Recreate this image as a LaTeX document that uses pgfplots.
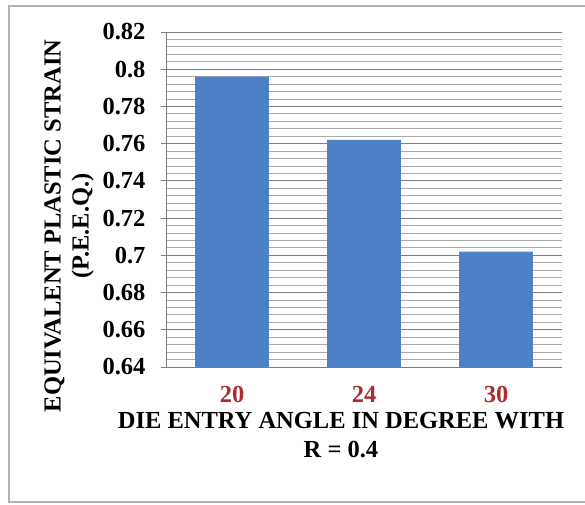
\documentclass[border=0pt]{standalone}
\usepackage{fontspec}
\setmainfont{Liberation Serif}
\usepackage{pgfplots}
\pgfplotsset{compat=1.18}
\definecolor{barblue}{RGB}{78,128,200}
\definecolor{tickred}{RGB}{170,45,45}
\definecolor{majgrid}{RGB}{125,125,125}
\definecolor{mingrid}{RGB}{170,170,170}
\begin{document}
\begin{tikzpicture}[x=1pt,y=1pt]
\useasboundingbox (0,0) rectangle (585,504);
\fill[white] (0,0) rectangle (585,504);
\draw[gray!60,line width=1.2pt] (600,2) -- (9,2) -- (9,498) -- (600,498);
\begin{axis}[
  at={(166pt,137pt)}, anchor=south west,
  width=396pt, height=335pt, scale only axis,
  xmin=-0.5, xmax=2.5, ymin=0.64, ymax=0.82,
  xtick={0,1,2}, xticklabels={20,24,30},
  ytick={0.64,0.66,...,0.82},
  minor y tick num=4,
  ymajorgrids, yminorgrids,
  major grid style={majgrid, line width=0.8pt},
  minor grid style={mingrid, line width=0.8pt},
  axis x line*=bottom, axis y line*=left,
  x axis line style={majgrid, line width=1pt, -},
  y axis line style={majgrid, line width=1pt, -},
  xtick style={draw=none},
  ytick style={majgrid, line width=0.8pt},
  tick align=outside, major tick length=5pt,
  minor tick length=0pt,
  /pgf/number format/assume math mode=true,
  yticklabel style={font=\fontsize{24.5}{27}\selectfont\bfseries, xshift=-12pt},
  xticklabel style={font=\fontsize{24.5}{27}\selectfont\bfseries, text=tickred, yshift=-11pt},
  yticklabel={\pgfmathprintnumber{\tick}},
  ybar, bar width=0.56,
]
\addplot[fill=barblue, draw=none] coordinates {(0,0.796) (1,0.762) (2,0.702)};
\end{axis}
\node[font=\fontsize{24.5}{29}\selectfont\bfseries, align=center] at (341,68.5)
  {DIE ENTRY ANGLE IN DEGREE WITH\\R = 0.4};
\node[font=\fontsize{24.5}{28}\selectfont\bfseries, align=center, rotate=90] at (69,278)
  {EQUIVALENT PLASTIC STRAIN\\(P.E.E.Q.)};
\end{tikzpicture}
\end{document}
